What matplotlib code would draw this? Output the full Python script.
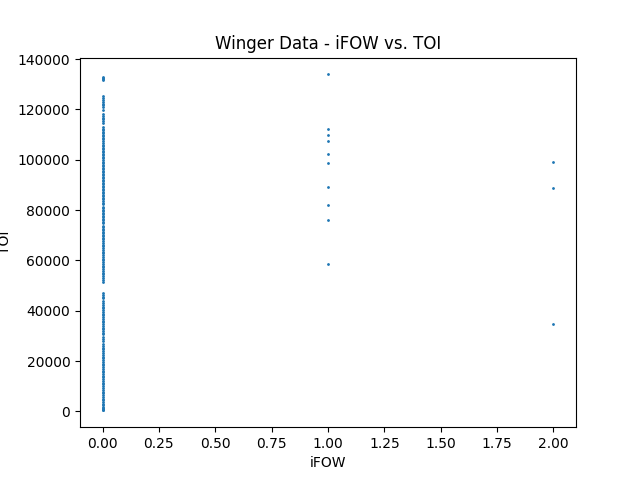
import matplotlib

matplotlib.use("Agg")
import matplotlib.pyplot as plt

# iFOW = 0 wingers (TOI values)
toi_zero = [
    132900, 132500, 132100, 131800,
    125200, 124500, 123800, 123000, 122300, 121600, 120900,
    119600,
    118100, 117400, 116700, 116000, 115300, 114600,
    113100, 112400, 111800, 111200,
    110500, 109900, 109300, 108700, 108100, 107400,
    106600, 106000, 105400, 104800, 104200, 103600, 103000, 102400, 101800, 101200, 100600, 100000,
    99200, 98600, 98000, 97400, 96800, 96200, 95600, 95000, 94400, 93800, 93200, 92600,
    92000, 91400, 90800, 90200, 89600, 89000, 88400, 87800, 87200, 86600, 86000, 85400,
    84800, 84200, 83600, 83000, 82500,
    81400, 80800, 80200, 79600, 79000, 78400, 77800, 77200, 76600, 76000, 75400, 74700,
    73800, 73200, 72600, 72000, 71400, 70800, 70200, 69600, 69000, 68400, 67800,
    67000, 66300, 65600, 64900, 64200, 63500, 62800, 62100, 61400, 60700, 60000,
    59300, 58600, 57900, 57200, 56500, 55800, 55100, 54400, 53700, 53000, 52300, 51600,
    47000, 46300, 45600, 44900, 44000,
    43000, 42300, 41600, 41000,
    40300, 39600, 38900, 38200, 37500, 36800, 36100, 35400, 34700, 34000, 33300,
    32600, 31900, 31200, 30700,
    29500, 28700, 27900,
    26700, 26000, 25300, 24600, 23900, 23200, 22500, 21800, 21100, 20400, 19700,
    19000, 18300, 17600, 16900, 16200, 15500, 14800, 14100, 13600,
    12800, 12100, 11400, 10700, 10000, 9300, 8600, 7900, 7200, 6500, 5800,
    5100, 4400, 3700, 3000, 2400, 1800, 1300, 900, 600, 400,
]
# iFOW = 1 wingers
toi_one = [133900, 112400, 110000, 107600, 102400, 98800, 89200, 82000, 76100, 58500]
# iFOW = 2 wingers
toi_two = [99200, 88800, 34600]

ifow = [0] * len(toi_zero) + [1] * len(toi_one) + [2] * len(toi_two)
toi = toi_zero + toi_one + toi_two

fig, ax = plt.subplots(figsize=(6.4, 4.8), dpi=100)
ax.scatter(ifow, toi, s=1)
ax.set_title("Winger Data - iFOW vs. TOI")
ax.set_xlabel("iFOW")
ax.set_ylabel("TOI")
fig.savefig("out.png")
